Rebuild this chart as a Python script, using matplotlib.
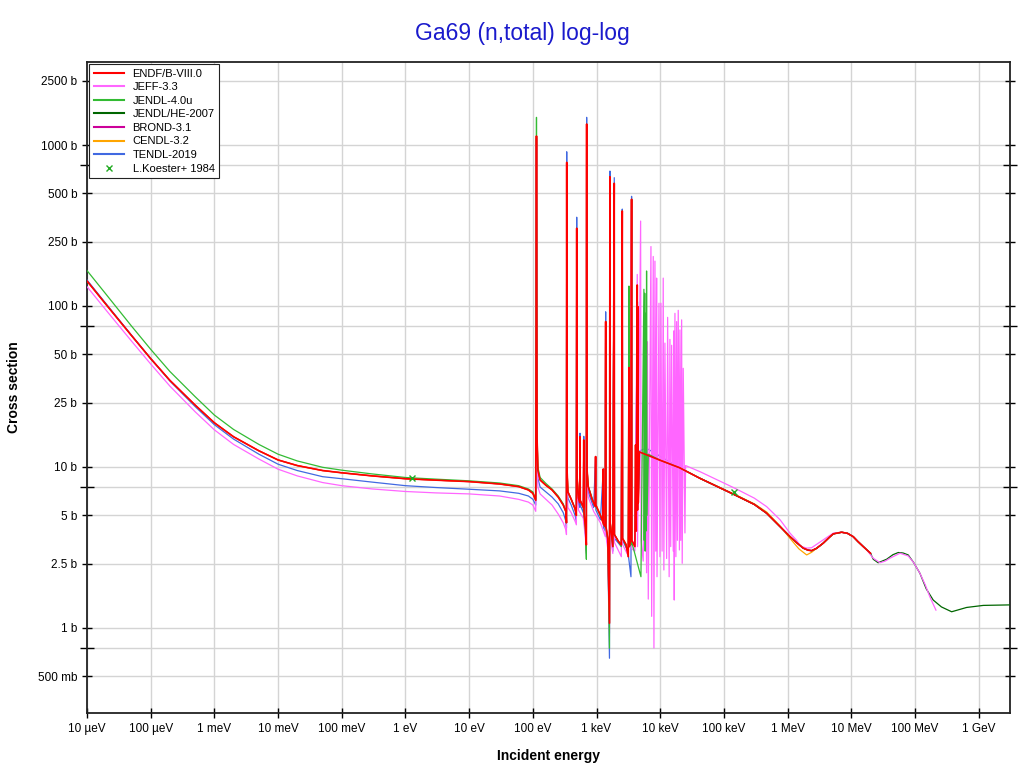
import matplotlib
matplotlib.use("Agg")
import matplotlib.pyplot as plt
import numpy as np

plt.rcParams['font.family'] = ['Liberation Sans', 'DejaVu Sans']

# energies in eV, cross sections in barns
# fast region shared by ENDF, JENDL-4.0u, JENDL/HE and TENDL (they overlap there)
fast = [
    (20000, 9.9), (42000, 8.5), (1.49e5, 6.7), (3e5, 5.85), (4.68e5, 5.16), (7.6e5, 4.26),
    (1.09e6, 3.69), (1.38e6, 3.39), (1.76e6, 3.13), (2.1e6, 3.04), (2.38e6, 3.02),
    (2.84e6, 3.12), (3.62e6, 3.36), (4.5e6, 3.65), (5.2e6, 3.84), (7.04e6, 3.93),
    (8.7e6, 3.87), (1.07e7, 3.69), (1.27e7, 3.44), (1.54e7, 3.2), (2.0e7, 2.91),
]

endf = [
    (1e-5, 143), (2e-5, 102), (5e-5, 65.5), (1e-4, 47.1), (2e-4, 34.5), (5e-4, 24.2),
    (1e-3, 18.8), (2e-3, 15.4), (5e-3, 12.6), (1e-2, 11.05), (2e-2, 10.2), (5e-2, 9.5),
    (0.1, 9.2), (0.3, 8.8), (1, 8.45), (3, 8.28), (10, 8.11),
    (30, 7.84), (60, 7.55), (85, 7.2), (100, 6.86), (111, 6.2), (114, 1137), (116.5, 15),
    (120, 9.5), (130, 8.3), (160, 7.7), (200, 7.2), (250, 6.5), (300, 5.8), (330, 5.28),
    (337, 4.5), (340, 780), (343, 10), (355, 7.0), (400, 6.3), (460, 5.5), (482, 5.0),
    (488, 304), (492, 9), (520, 6.4), (545, 6.0), (550, 15.4), (555, 6.2), (620, 5.6),
    (630, 14.7), (636, 5.2), (670, 4.2), (692, 3.28), (699, 1350), (705, 10), (740, 7.55),
    (850, 6.3), (950, 5.7), (966, 11.6), (975, 5.8), (1150, 5.0), (1270, 4.5), (1276, 9.7),
    (1285, 4.4), (1370, 4.26), (1390, 80), (1400, 4.3), (1500, 3.6), (1595, 1.07),
    (1622, 635), (1640, 4.5), (1800, 3.2), (1897, 578), (1910, 3.8), (2200, 3.45),
    (2450, 3.28), (2535, 389), (2560, 3.6), (2900, 3.3), (3150, 2.77), (3228, 41.4),
    (3260, 3.2), (3450, 3.5), (3548, 460), (3580, 3.5), (4000, 3.2), (4100, 13.7),
    (4200, 4.0), (4355, 135), (4400, 5.4), (4450, 99), (4520, 6.0), (4700, 12.4),
    (10000, 11.0),
]

jeff = [
    (1e-5, 131.8), (2e-5, 94), (5e-5, 60.5), (1e-4, 43.6), (2e-4, 31.8), (5e-4, 22.0),
    (1e-3, 17.0), (2e-3, 13.8), (5e-3, 11.2), (1e-2, 9.68), (2e-2, 8.8), (5e-2, 8.0),
    (0.1, 7.65), (0.3, 7.3), (1, 7.04), (3, 6.9), (10, 6.8),
    (30, 6.6), (60, 6.29), (85, 6.05), (100, 5.8), (111, 5.3), (114, 1000), (116.5, 10),
    (120, 7.5), (130, 6.8), (160, 6.3), (200, 5.8), (250, 5.1), (300, 4.5), (330, 4.06),
    (337, 3.8), (340, 780), (343, 8), (355, 5.6), (400, 5.2), (460, 4.6), (482, 4.37),
    (488, 300), (492, 7), (520, 5.4), (620, 4.8), (670, 3.6), (692, 2.9), (699, 1300),
    (705, 8), (740, 6.5), (900, 5.3), (1150, 4.5), (1370, 3.7), (1390, 75), (1400, 3.8),
    (1500, 3.1), (1595, 0.927), (1622, 600), (1640, 3.8), (1800, 2.9), (1897, 560),
    (1910, 3.4), (2450, 2.77), (2535, 380), (2560, 3.3), (3150, 2.8), (3548, 450),
    (3580, 3.1), (4000, 3.0), (4355, 157), (4400, 3.2), (4920, 337), (5000, 3.5),
    (5400, 2.6), (5754, 84), (6100, 2.2), (6300, 60), (6486, 1.51), (7145, 234), (7330, 1.18),
    (7762, 203), (7962, 0.75), (8260, 190), (8500, 3.0), (8770, 149), (8900, 2.08),
    (9550, 104), (9890, 2.77), (10250, 104), (10700, 3.0), (11140, 149), (11400, 2.29),
    (11850, 58.8), (12590, 2.70), (13060, 85), (13800, 2.08), (14190, 62), (14600, 3.2),
    (15100, 57), (16000, 3.0), (16300, 70), (16590, 1.49), (17010, 90), (17600, 2.77),
    (18080, 80), (18600, 3.5), (19170, 94), (20000, 3.05), (20380, 71), (21000, 3.5),
    (21670, 82), (22130, 2.52), (22960, 41), (24420, 3.89), (25000, 10.2), (42000, 9.35),
    (1.49e5, 7.37), (3e5, 6.4), (4.68e5, 5.67), (7.6e5, 4.7), (1.09e6, 3.88),
    (1.38e6, 3.5), (1.6e6, 3.22), (2.0e6, 3.13), (2.38e6, 3.15), (3.0e6, 3.35),
    (3.62e6, 3.52), (5.2e6, 3.88), (7.04e6, 3.93), (8.7e6, 3.87), (1.07e7, 3.69),
    (1.37e7, 3.35), (1.74e7, 3.05), (2.21e7, 2.71), (2.81e7, 2.54), (3.4e7, 2.6),
    (4.04e7, 2.71), (5.8e7, 2.91), (7.82e7, 2.80), (9.5e7, 2.55), (1.19e8, 2.19),
    (1.45e8, 1.85), (1.71e8, 1.56), (2.13e8, 1.29),
]

jendl4 = [
    (1e-5, 166), (2e-5, 118), (5e-5, 75), (1e-4, 53.8), (2e-4, 39.2), (5e-4, 27.3),
    (1e-3, 21.0), (2e-3, 17.1), (5e-3, 13.8), (1e-2, 12.0), (2e-2, 10.9), (5e-2, 9.95),
    (0.1, 9.55), (0.3, 9.05), (1, 8.6), (3, 8.4), (10, 8.2),
    (30, 7.95), (60, 7.65), (85, 7.3), (100, 7.0), (111, 6.3), (114, 1486), (116.5, 16),
    (120, 10), (130, 8.6), (160, 7.9), (200, 7.3), (250, 6.6), (300, 5.9), (330, 5.3),
    (337, 4.5), (340, 780), (343, 10), (355, 7.0), (400, 6.3), (460, 5.5), (482, 5.0),
    (488, 304), (492, 9), (520, 6.4), (620, 5.6), (670, 4.0), (692, 2.67), (699, 1350),
    (705, 10), (740, 7.6), (900, 6.0), (1150, 5.0), (1370, 4.2), (1390, 80), (1400, 4.2),
    (1500, 3.5), (1595, 0.748), (1622, 635), (1640, 4.5), (1800, 3.2), (1897, 578),
    (1910, 3.8), (2450, 3.2), (2535, 389), (2560, 3.6), (3150, 3.0), (3228, 133),
    (3260, 3.2), (3500, 3.3), (3548, 460), (3580, 3.4), (4977, 2.08), (5540, 127),
    (5600, 3.5), (5700, 120), (5800, 3.0), (5900, 90), (6000, 4.0), (6100, 165),
    (6200, 5.0), (6500, 12.0), (10000, 11.0),
]

jendl_he_high = [
    (2.21e7, 2.67), (2.64e7, 2.54), (3.58e7, 2.67), (4.5e7, 2.85), (5.45e7, 2.94),
    (6.5e7, 2.92), (7.82e7, 2.84), (9.5e7, 2.55), (1.19e8, 2.19), (1.5e8, 1.75),
    (1.93e8, 1.49), (2.6e8, 1.35), (3.76e8, 1.26), (6.46e8, 1.34), (1.18e9, 1.38),
    (3.1e9, 1.39),
]

cendl_high = [
    (20000, 9.9), (42000, 8.5), (1.49e5, 6.75), (3e5, 5.9), (4.68e5, 5.25), (7.6e5, 4.3),
    (1.09e6, 3.6), (1.5e6, 3.1), (1.99e6, 2.84), (2.38e6, 2.95), (2.84e6, 3.12),
    (3.62e6, 3.36), (4.5e6, 3.65), (5.2e6, 3.84), (7.04e6, 3.93), (8.7e6, 3.87),
    (1.07e7, 3.69), (1.27e7, 3.44), (1.54e7, 3.2), (2.0e7, 2.91),
]

tendl = [
    (1e-5, 145), (2e-5, 103), (5e-5, 65.8), (1e-4, 47.1), (2e-4, 34.2), (5e-4, 23.7),
    (1e-3, 18.3), (2e-3, 14.9), (5e-3, 12.0), (1e-2, 10.4), (2e-2, 9.5), (5e-2, 8.7),
    (0.1, 8.45), (0.3, 8.05), (1, 7.65), (3, 7.45), (10, 7.27),
    (30, 7.1), (60, 6.86), (85, 6.6), (100, 6.3), (111, 5.8), (114, 1100), (116.5, 12),
    (120, 8.5), (130, 7.5), (160, 7.0), (200, 6.5), (250, 5.9), (300, 5.2), (330, 4.6),
    (337, 4.2), (340, 908), (343, 9), (355, 6.4), (400, 5.8), (460, 5.0), (482, 4.6),
    (488, 356), (492, 8), (520, 5.9), (545, 5.6), (550, 16.2), (555, 5.8), (620, 5.2),
    (630, 15.5), (636, 4.8), (670, 3.8), (692, 3.0), (699, 1486), (705, 9), (740, 7.0),
    (900, 5.6), (966, 11.6), (975, 5.4), (1150, 4.7), (1276, 9.7), (1285, 4.2),
    (1370, 4.0), (1390, 92), (1400, 4.0), (1500, 3.3), (1595, 0.648), (1622, 689),
    (1640, 4.2), (1800, 3.0), (1897, 627), (1910, 3.6), (2450, 3.2), (2535, 400),
    (2560, 3.5), (3100, 3.0), (3470, 2.08), (3548, 480), (3580, 3.4), (4000, 3.3),
    (4400, 106), (4450, 5.5), (4800, 12.6), (6000, 13.1), (8800, 12.0),
]

koester_e = [1.25, 1.44e5]
koester_s = [8.58, 7.0]

x_ticks = [1e-5, 1e-4, 1e-3, 1e-2, 1e-1, 1, 10, 100, 1e3, 1e4, 1e5, 1e6, 1e7, 1e8, 1e9]
x_labels = ["10 µeV", "100 µeV", "1 meV", "10 meV", "100 meV", "1 eV", "10 eV", "100 eV",
            "1 keV", "10 keV", "100 keV", "1 MeV", "10 MeV", "100 MeV", "1 GeV"]
y_ticks = [0.5, 1, 2.5, 5, 10, 25, 50, 100, 250, 500, 1000, 2500]
y_labels = ["500 mb", "1 b", "2.5 b", "5 b", "10 b", "25 b", "50 b", "100 b", "250 b",
            "500 b", "1000 b", "2500 b"]
y_minor = [0.75, 7.5, 75, 750]


def xy(pts):
    a = np.array(pts, dtype=float)
    return a[:, 0], a[:, 1]


fig = plt.figure(figsize=(10.2, 7.73), dpi=100)
ax = fig.add_axes([0.0853, 0.0776, 0.9049, 0.8422])

endf_all = endf + fast

e, s = xy(endf_all)
ax.plot(e, s, color='#cc0099', lw=0.9, label='BROND-3.1', zorder=2)
e, s = xy(endf + cendl_high)
ax.plot(e, s, color='#ffa500', lw=0.9, label='CENDL-3.2', zorder=3)
e, s = xy(fast[1:] + jendl_he_high)
ax.plot(e, s, color='#006600', lw=0.9, label='JENDL/HE-2007', zorder=3)
e, s = xy(tendl + fast)
ax.plot(e, s, color='#4169e1', lw=0.9, label='TENDL-2019', zorder=4)
e, s = xy(jeff)
ax.plot(e, s, color='#ff66ff', lw=0.9, label='JEFF-3.3', zorder=5)
e, s = xy(jendl4 + fast)
ax.plot(e, s, color='#33bb33', lw=0.9, label='JENDL-4.0u', zorder=6)
e, s = xy(endf_all)
ax.plot(e, s, color='#ff0000', lw=1.2, label='ENDF/B-VIII.0', zorder=7)
ax.plot(koester_e, koester_s, 'x', color='#22aa22', ms=5, mew=1.0, ls='none',
        label='L.Koester+ 1984', zorder=8)

ax.set_xscale('log')
ax.set_yscale('log')
ax.set_xlim(1e-5, 3.1e9)
ax.set_ylim(0.296, 3280)

ax.set_xticks(x_ticks)
ax.set_xticklabels(x_labels, fontsize=8.5)
ax.xaxis.set_minor_locator(matplotlib.ticker.NullLocator())
ax.set_yticks(y_ticks)
ax.set_yticklabels(y_labels, fontsize=8.5)
ax.set_yticks(y_minor, minor=True)
ax.yaxis.set_minor_formatter(matplotlib.ticker.NullFormatter())

ax.tick_params(axis='x', which='major', direction='inout', length=7, width=1, top=False)
ax.tick_params(axis='y', which='major', direction='inout', length=7, width=1, right=True)
ax.tick_params(axis='y', which='minor', direction='inout', length=10, width=1, right=True)
ax.grid(True, which='major', color='#d4d4d4', lw=1)
ax.grid(True, which='minor', axis='y', color='#d4d4d4', lw=1)
ax.set_axisbelow(True)
for sp in ax.spines.values():
    sp.set_linewidth(1.3)
    sp.set_color('#222222')

ax.set_xlabel('Incident energy', fontsize=10, fontweight='bold', labelpad=10)
ax.set_ylabel('Cross section', fontsize=10, fontweight='bold', labelpad=12)
fig.text(0.512, 0.957, 'Ga69 (n,total) log-log', color='#1a1acc', fontsize=16.5,
         ha='center', va='center')

handles, labels = ax.get_legend_handles_labels()
order = ['ENDF/B-VIII.0', 'JEFF-3.3', 'JENDL-4.0u', 'JENDL/HE-2007', 'BROND-3.1',
         'CENDL-3.2', 'TENDL-2019', 'L.Koester+ 1984']
hmap = dict(zip(labels, handles))
leg = ax.legend([hmap[l] for l in order], order, loc='upper left', fontsize=8,
                frameon=True, fancybox=False, framealpha=1, edgecolor='#222222',
                borderaxespad=0.2, handlelength=2.7, handletextpad=0.8,
                labelspacing=0.32, borderpad=0.4)
leg.get_frame().set_linewidth(0.8)
for line in leg.get_lines():
    line.set_linewidth(1.5)

fig.savefig('out.png', dpi=100)
